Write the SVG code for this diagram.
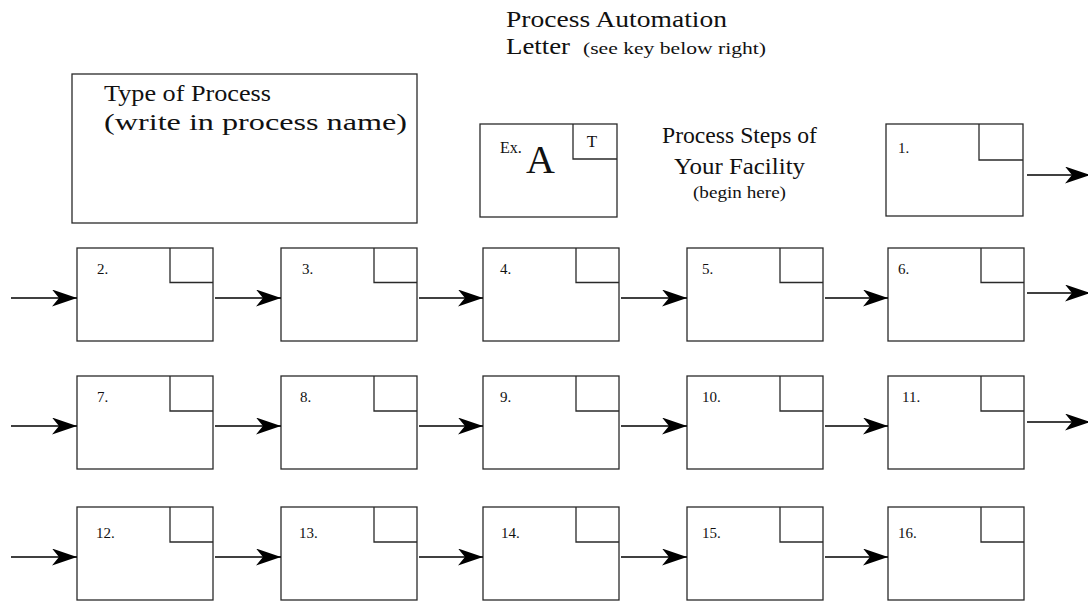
<svg xmlns="http://www.w3.org/2000/svg" width="1088" height="601" viewBox="0 0 1088 601">
  <style>
    .box { fill: #fff; stroke: #2a2a2a; stroke-width: 1.3; }
    .corner { fill: none; stroke: #2a2a2a; stroke-width: 1.3; }
    .link { fill: none; stroke: #000; stroke-width: 1.3; marker-end: url(#head); }
    .t { font-family: "Liberation Serif", "Times New Roman", serif; fill: #111; }
    .big { font-size: 24px; }
    .mid { font-size: 17px; }
    .num { font-size: 15px; }
  </style>
  <defs>
    <marker id="head" markerUnits="userSpaceOnUse" markerWidth="26" markerHeight="18" refX="25" refY="8.5" orient="auto">
      <path d="M0,0 L25,8.5 L0,17 L7,8.5 Z" fill="#000"/>
    </marker>
  </defs>
  <rect width="1088" height="601" fill="#fff"/>

  <!-- heading -->
  <g id="heading">
    <text class="t big" x="506" y="27" textLength="221" lengthAdjust="spacingAndGlyphs">Process Automation</text>
    <text class="t big" x="506" y="54" textLength="64" lengthAdjust="spacingAndGlyphs">Letter</text>
    <text class="t mid" x="583" y="54" textLength="183" lengthAdjust="spacingAndGlyphs">(see key below right)</text>
  </g>

  <!-- process name box -->
  <g id="process-type">
    <rect class="box" x="72" y="74" width="345" height="149"/>
    <text class="t big" x="104" y="101" textLength="167" lengthAdjust="spacingAndGlyphs">Type of Process</text>
    <text class="t big" x="104" y="130" textLength="303" lengthAdjust="spacingAndGlyphs">(write in process name)</text>
  </g>

  <!-- example key -->
  <g id="example">
    <rect class="box" x="480" y="124" width="137" height="93"/>
    <path class="corner" d="M573,124 V159 H617"/>
    <text class="t" x="500" y="153" font-size="16">Ex.</text>
    <text class="t" x="526" y="173" font-size="40">A</text>
    <text class="t" x="592" y="147" font-size="17" text-anchor="middle">T</text>
  </g>

  <g id="caption">
    <text class="t big" x="739.5" y="143" text-anchor="middle" textLength="155" lengthAdjust="spacingAndGlyphs">Process Steps of</text>
    <text class="t big" x="739.5" y="174" text-anchor="middle" textLength="131" lengthAdjust="spacingAndGlyphs">Your Facility</text>
    <text class="t mid" x="739.5" y="198" text-anchor="middle" textLength="93" lengthAdjust="spacingAndGlyphs">(begin here)</text>
  </g>

  <!-- step 1 -->
  <g id="step-1">
    <rect class="box" x="886" y="124" width="137" height="92"/>
    <path class="corner" d="M979,124 V160 H1023"/>
    <text class="t num" x="898" y="153">1.</text>
  </g>

  <!-- row: steps 2-6 -->
  <g id="step-2"><rect class="box" x="77" y="248" width="136" height="93"/><path class="corner" d="M170,248 V282.5 H213"/><text class="t num" x="97" y="274">2.</text></g>
  <g id="step-3"><rect class="box" x="281" y="248" width="136" height="93"/><path class="corner" d="M374,248 V282.5 H417"/><text class="t num" x="302" y="274">3.</text></g>
  <g id="step-4"><rect class="box" x="483" y="248" width="136" height="93"/><path class="corner" d="M576,248 V282.5 H619"/><text class="t num" x="500" y="274">4.</text></g>
  <g id="step-5"><rect class="box" x="687" y="248" width="136" height="93"/><path class="corner" d="M780,248 V282.5 H823"/><text class="t num" x="702" y="274">5.</text></g>
  <g id="step-6"><rect class="box" x="888" y="248" width="136" height="93"/><path class="corner" d="M981,248 V282.5 H1024"/><text class="t num" x="898" y="274">6.</text></g>

  <!-- row: steps 7-11 -->
  <g id="step-7"><rect class="box" x="77" y="376" width="136" height="93"/><path class="corner" d="M170,376 V411 H213"/><text class="t num" x="97" y="402">7.</text></g>
  <g id="step-8"><rect class="box" x="281" y="376" width="136" height="93"/><path class="corner" d="M374,376 V411 H417"/><text class="t num" x="300" y="402">8.</text></g>
  <g id="step-9"><rect class="box" x="483" y="376" width="136" height="93"/><path class="corner" d="M576,376 V411 H619"/><text class="t num" x="500" y="402">9.</text></g>
  <g id="step-10"><rect class="box" x="687" y="376" width="136" height="93"/><path class="corner" d="M780,376 V411 H823"/><text class="t num" x="702" y="402">10.</text></g>
  <g id="step-11"><rect class="box" x="888" y="376" width="136" height="93"/><path class="corner" d="M981,376 V411 H1024"/><text class="t num" x="902" y="402">11.</text></g>

  <!-- row: steps 12-16 -->
  <g id="step-12"><rect class="box" x="77" y="507" width="136" height="93"/><path class="corner" d="M170,507 V542 H213"/><text class="t num" x="96" y="538">12.</text></g>
  <g id="step-13"><rect class="box" x="281" y="507" width="136" height="93"/><path class="corner" d="M374,507 V542 H417"/><text class="t num" x="299" y="538">13.</text></g>
  <g id="step-14"><rect class="box" x="483" y="507" width="136" height="93"/><path class="corner" d="M576,507 V542 H619"/><text class="t num" x="501" y="538">14.</text></g>
  <g id="step-15"><rect class="box" x="687" y="507" width="136" height="93"/><path class="corner" d="M780,507 V542 H823"/><text class="t num" x="702" y="538">15.</text></g>
  <g id="step-16"><rect class="box" x="888" y="507" width="136" height="93"/><path class="corner" d="M981,507 V542 H1024"/><text class="t num" x="898" y="538">16.</text></g>

  <!-- connectors -->
  <g id="connectors">
    <line class="link" x1="1027" y1="175" x2="1090" y2="175"/>

    <line class="link" x1="11" y1="298" x2="77" y2="298"/>
    <line class="link" x1="215" y1="298" x2="281" y2="298"/>
    <line class="link" x1="419" y1="298" x2="483" y2="298"/>
    <line class="link" x1="621" y1="298" x2="687" y2="298"/>
    <line class="link" x1="825" y1="298" x2="888" y2="298"/>
    <line class="link" x1="1027" y1="293" x2="1090" y2="293"/>

    <line class="link" x1="11" y1="426" x2="77" y2="426"/>
    <line class="link" x1="215" y1="426" x2="281" y2="426"/>
    <line class="link" x1="419" y1="426" x2="483" y2="426"/>
    <line class="link" x1="621" y1="426" x2="687" y2="426"/>
    <line class="link" x1="825" y1="426" x2="888" y2="426"/>
    <line class="link" x1="1027" y1="422" x2="1090" y2="422"/>

    <line class="link" x1="11" y1="557" x2="77" y2="557"/>
    <line class="link" x1="215" y1="557" x2="281" y2="557"/>
    <line class="link" x1="419" y1="557" x2="483" y2="557"/>
    <line class="link" x1="621" y1="557" x2="687" y2="557"/>
    <line class="link" x1="825" y1="557" x2="888" y2="557"/>
  </g>
</svg>
